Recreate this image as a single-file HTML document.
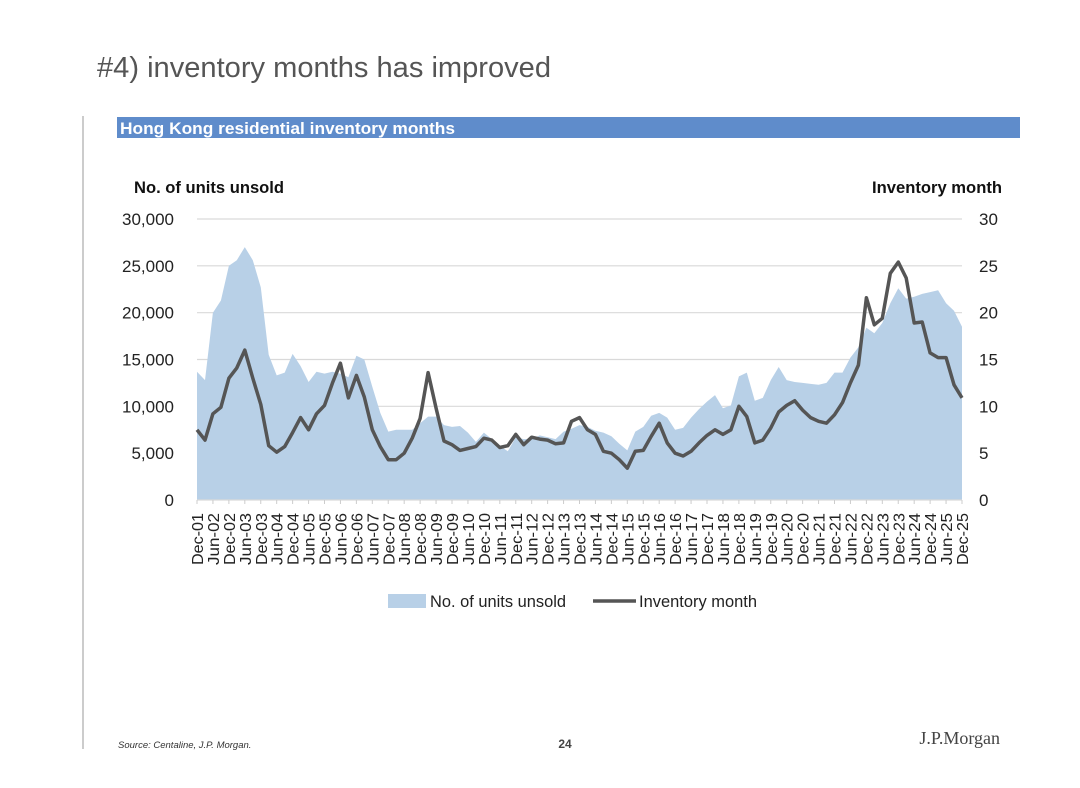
<!DOCTYPE html>
<html><head><meta charset="utf-8"><style>
html,body{margin:0;padding:0;background:#fff;}
svg{display:block;font-family:"Liberation Sans",Arial,sans-serif;}
</style></head><body>
<svg id="chart" width="1080" height="788" viewBox="0 0 1080 788" xmlns="http://www.w3.org/2000/svg">
<text x="97" y="77" font-size="28.8" fill="#555" textLength="454" lengthAdjust="spacingAndGlyphs">#4) inventory months has improved</text>
<line x1="83" y1="116" x2="83" y2="749" stroke="#bbb" stroke-width="1.5"/>
<rect x="117" y="117" width="903" height="21" fill="#5f8ccb"/>
<text x="120" y="134" font-size="16.5" font-weight="bold" fill="#fff" textLength="335" lengthAdjust="spacingAndGlyphs">Hong Kong residential inventory months</text>
<text x="134" y="193" font-size="17" font-weight="bold" fill="#111" textLength="150" lengthAdjust="spacingAndGlyphs">No. of units unsold</text>
<text x="1002" y="193" font-size="17" font-weight="bold" fill="#111" text-anchor="end" textLength="130" lengthAdjust="spacingAndGlyphs">Inventory month</text>
<g id="grid"></g><g id="area"></g><g id="line"></g><g id="axes"></g>
<g>
<rect x="388" y="594" width="38" height="14" fill="#b8d0e7"/>
<text x="430" y="607" font-size="17" fill="#222" textLength="136" lengthAdjust="spacingAndGlyphs">No. of units unsold</text>
<line x1="593" y1="601" x2="636" y2="601" stroke="#555" stroke-width="3.5"/>
<text x="639" y="607" font-size="17" fill="#222" textLength="118" lengthAdjust="spacingAndGlyphs">Inventory month</text>
</g>
<text x="118" y="748" font-size="9.5" font-style="italic" fill="#333">Source: Centaline, J.P. Morgan.</text>
<text x="565" y="748" font-size="12" font-weight="bold" fill="#444" text-anchor="middle">24</text>
<text x="1000" y="744" font-size="18" fill="#444" text-anchor="end" font-family="Liberation Serif, serif">J.P.Morgan</text>
</svg>
<script>
const units = [13.7,12.8,20,21.3,25,25.6,27,25.6,22.7,15.5,13.3,13.6,15.6,14.3,12.6,13.7,13.5,13.7,13.5,13.1,15.4,15,12.1,9.3,7.3,7.5,7.5,7.5,8.2,8.9,8.9,8,7.8,7.9,7.2,6.2,7.2,6.5,5.8,5.2,6.7,6.5,6.5,6.9,6.7,6.5,7.3,7.6,8,7.8,7.4,7.2,6.8,6,5.3,7.3,7.8,9,9.3,8.8,7.5,7.7,8.8,9.7,10.5,11.2,9.8,10.1,13.2,13.6,10.6,10.9,12.8,14.2,12.8,12.6,12.5,12.4,12.3,12.5,13.6,13.6,15.2,16.3,18.4,17.8,18.9,21,22.6,21.5,21.7,22,22.2,22.4,21,20.2,18.5].map(v=>v*1000);
const months = [7.5,6.4,9.2,9.9,13,14.1,16,13,10.2,5.8,5.1,5.7,7.2,8.8,7.5,9.2,10.1,12.5,14.6,10.9,13.3,11,7.5,5.7,4.3,4.3,5,6.6,8.7,13.6,9.8,6.3,5.9,5.3,5.5,5.7,6.6,6.4,5.6,5.8,7,5.9,6.7,6.5,6.4,6,6.1,8.4,8.8,7.5,7,5.2,5,4.3,3.4,5.2,5.3,6.8,8.2,6.1,5,4.7,5.2,6.1,6.9,7.5,7,7.5,10,8.9,6.1,6.4,7.7,9.4,10.1,10.6,9.6,8.8,8.4,8.2,9.1,10.4,12.5,14.4,21.6,18.7,19.4,24.2,25.4,23.7,18.9,19,15.7,15.2,15.2,12.3,10.9];
const leftTicks = ["0","5,000","10,000","15,000","20,000","25,000","30,000"];
const rightTicks = ["0","5","10","15","20","25","30"];
const startYear = 2001;

const NS="http://www.w3.org/2000/svg";
const X0=197,X1=962,Y0=500,Y1=219;
const n=units.length;
const xs=i=>X0+(X1-X0)*i/(n-1);
const yL=v=>Y0-(Y0-Y1)*v/30000;
const yR=v=>Y0-(Y0-Y1)*v/30;
function mk(tag,attrs,parent){const e=document.createElementNS(NS,tag);for(const k in attrs)e.setAttribute(k,attrs[k]);document.getElementById(parent).appendChild(e);return e;}

leftTicks.forEach((t,i)=>{
  const y=yL(i*5000);
  if(i>0){const g=mk('line',{x1:X0,x2:X1,y1:y,y2:y,stroke:'#d9d9d9','stroke-width':1.2},'grid');
  
  }
  const a=mk('text',{x:174,y:y+6,'font-size':17,fill:'#222','text-anchor':'end'},'axes');a.textContent=t;
  
  
  const b=mk('text',{x:979,y:y+6,'font-size':17,fill:'#222'},'axes');b.textContent=rightTicks[i];
  
  
});

let d=`M${xs(0)},${Y0}`;
units.forEach((v,i)=>{d+=` L${xs(i).toFixed(1)},${yL(v).toFixed(1)}`;});
d+=` L${xs(n-1)},${Y0} Z`;
const ar=mk('path',{d:d,fill:'#b8d0e7'},'area');



let p=months.map((v,i)=>`${i?'L':'M'}${xs(i).toFixed(1)},${yR(v).toFixed(1)}`).join(' ');
const ln=mk('path',{d:p,fill:'none',stroke:'#555','stroke-width':3.5,'stroke-linejoin':'round'},'line');



const ax=mk('line',{x1:X0,x2:X1,y1:Y0,y2:Y0,stroke:'#d9d9d9','stroke-width':1.2},'axes');


for(let i=0;i<n;i+=2){
  const q=i/2;
  const yr=startYear+Math.floor((q+1)/2);
  const lab=(q%2===0?'Dec-':'Jun-')+String(yr%100).padStart(2,'0');
  const x=xs(i);
  const tk=mk('line',{x1:x,x2:x,y1:Y0,y2:Y0+4,stroke:'#ccc'},'axes');
  
  
  const t=mk('text',{x:0,y:0,'font-size':16,fill:'#222','text-anchor':'end',textLength:52,lengthAdjust:'spacingAndGlyphs',transform:`translate(${x+6},${Y0+13}) rotate(-90)`},'axes');
  t.textContent=lab;
  
  
}
</script>
</body></html>
